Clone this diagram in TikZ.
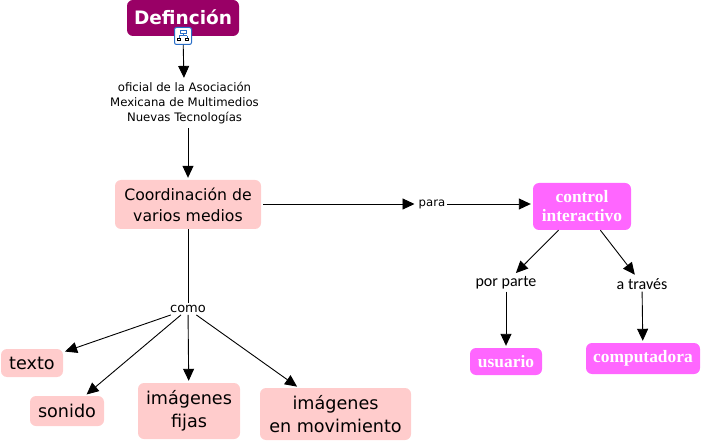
\documentclass[tikz,border=0pt]{standalone}
\usepackage{fontspec}
\setmainfont{DejaVu Sans}
\newfontfamily\conceptserif{Liberation Serif}
\newfontfamily\linkfont{Carlito}
\usetikzlibrary{arrows.meta}
\definecolor{purpledark}{HTML}{990066}
\definecolor{pinkstrong}{HTML}{FF66FF}
\definecolor{pinksoft}{HTML}{FFCCCC}
\definecolor{iconblue}{HTML}{2A6FC9}

\begin{document}
\begin{tikzpicture}
        [x=1pt,y=-1pt,
          boxdecorate/.style={shape=rectangle,rounded corners=6pt,inner sep=0pt},
          softdecorate/.style={boxdecorate,fill=pinksoft,text=black,align=center,font=\fontsize{17.6}{22.5}\selectfont},
          strongdecorate/.style={boxdecorate,fill=pinkstrong,text=white,align=center,font=\conceptserif\bfseries\fontsize{17.4}{19}\selectfont},
          linkdecorate/.style={inner sep=2pt,align=center,font=\fontsize{11.7}{15}\selectfont},
          linedecorate/.style={-{Triangle[length=12pt,width=11pt]},line width=0.9pt,shorten >=2pt},
          plaindecorate/.style={-,line width=0.9pt}]
        \useasboundingbox (0,0) rectangle (703,443);
        %% concept boxes
        \node (defincion) at (183,18) [boxdecorate,fill=purpledark,text=white,
          minimum width=112pt,minimum height=36pt,font=\bfseries\fontsize{18.5}{21}\selectfont] {\raisebox{2pt}{Definción}};
        \node (coordinacion) at (188,204.5) [softdecorate,minimum width=146pt,minimum height=49pt,
          font=\fontsize{15.7}{21}\selectfont] {Coordinación de\\varios medios};
        \foreach \nodename/\x/\y/\boxw/\boxh/\nodetext in {
          texto/32/363/62/28/{texto},
          sonido/67/411/74/30/{sonido},
          fijas/189/411/102/56/{imágenes\\fijas},
          movimiento/335.5/414/151/52/{imágenes\\en movimiento}}
        {
          \node (\nodename) at (\x,\y) [softdecorate,minimum width=\boxw pt,minimum height=\boxh pt] {\nodetext};
        }
        \foreach \nodename/\x/\y/\boxw/\boxh/\nodetext in {
          control/582/206.5/98/47/{control\\interactivo},
          usuario/506/361.5/72/27/{usuario},
          computadora/643/358.5/114/31/{computadora}}
        {
          \node (\nodename) at (\x,\y) [strongdecorate,minimum width=\boxw pt,minimum height=\boxh pt] {\nodetext};
        }
        %% linking phrases
        \foreach \nodename/\x/\y/\nodetext in {
          oficial/184.5/103/{oficial de la Asociación\\Mexicana de Multimedios\\Nuevas Tecnologías},
          para/432/204/{para}}
        {
          \node (\nodename) at (\x,\y) [linkdecorate] {\nodetext};
        }
        \node (como) at (188,309) [linkdecorate,font=\fontsize{13}{15}\selectfont] {como};
        \foreach \nodename/\x/\y/\nodetext in {
          porparte/506/283/{por parte},
          atraves/642/284/{a través}}
        {
          \node (\nodename) at (\x,\y) [linkdecorate,font=\linkfont\fontsize{16}{18}\selectfont] {\nodetext};
        }
        %% small icon below the first box
        \node (icono) at (183,36) [draw=iconblue,fill=white,rounded corners=2pt,line width=1pt,
          minimum width=17pt,minimum height=17pt,inner sep=0pt] {};
        \draw[iconblue,line width=1pt] (180,31) rectangle (186,33.5) (183,33.5) -- (183,36) (179,36) -- (187,36) (179,36) -- (179,38) (187,36) -- (187,38);
        \draw[black,line width=1pt] (177.5,38.5) rectangle (180.5,41) (185.5,38.5) rectangle (188.5,41);
        %% connectors
        \draw[linedecorate] (icono) -- (oficial);
        \draw[linedecorate,shorten <=2pt] (oficial.south -| coordinacion) -- (coordinacion);
        \draw[plaindecorate] (coordinacion) -- (como);
        \draw[linedecorate,shorten <=2pt] (coordinacion.east |- para) -- (para);
        \draw[linedecorate] (para) -- (control.west |- para);
        \path
        \foreach \startnode/\endnode in {como/texto, como/sonido,
          como/fijas, como/movimiento, control/porparte, control/atraves, porparte/usuario, atraves/computadora}
        {
          (\startnode) edge[linedecorate] node {} (\endnode)
        };
        \end{tikzpicture}
\end{document}
